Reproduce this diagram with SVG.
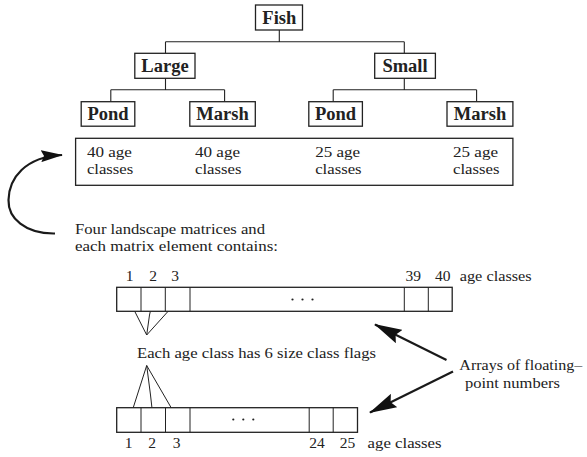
<svg xmlns="http://www.w3.org/2000/svg" width="587" height="457" viewBox="0 0 587 457">
<style>
  .box{fill:#fff;stroke:#222;stroke-width:1.3}
  .ln{fill:none;stroke:#222;stroke-width:1.1}
  .thin{fill:none;stroke:#222;stroke-width:1}
  text{font-family:'Liberation Serif','Times New Roman',Times,'DejaVu Serif',serif;fill:#222}
  .b{font-weight:bold;font-size:18.5px;text-anchor:middle}
  .t{font-size:15.5px}
  .m{text-anchor:middle}
  .arr{fill:none;stroke:#1a1a1a;stroke-width:2.2}
  .dot{fill:#222}
</style>
<defs>
  <marker id="big" viewBox="0 0 28 15" refX="27" refY="7.5" markerWidth="28" markerHeight="15" markerUnits="userSpaceOnUse" orient="auto">
    <path d="M0,0 L28,7.5 L0,15 L4,7.5 z" fill="#111"/>
  </marker>
  <marker id="small" viewBox="0 0 22 12" refX="21" refY="6" markerWidth="22" markerHeight="12" markerUnits="userSpaceOnUse" orient="auto">
    <path d="M0,0 L22,6 L0,12 L3,6 z" fill="#111"/>
  </marker>
</defs>

<g id="connectors">
  <path class="ln" d="M279.3,30 V41.7 M165.5,41.7 H404.3 M165.5,41.7 V53.3 M404.3,41.7 V53.3"/>
  <path class="ln" d="M165.5,78.3 V89.7 M110.8,89.7 H224.6 M110.8,89.7 V101.7 M224.6,89.7 V101.7"/>
  <path class="ln" d="M404.3,78.3 V89.7 M333.2,89.7 H476.6 M333.2,89.7 V101.7 M476.6,89.7 V101.7"/>
  <path class="arr" d="M55,233.5 C25,234 8,218 8.5,200 C9,178 25,157 62,155" marker-end="url(#small)"/>
  <path class="thin" d="M128.5,299 L146.7,335 L181,297 M153.3,298.3 L149.5,315 L146.7,335"/>
  <path class="thin" d="M129.3,420 L146.7,365.5 L178.3,420 M153.3,420 L150.5,395 L146.7,365.5"/>
  <path class="arr" d="M446.5,360 L375,324.5" marker-end="url(#big)"/>
  <path class="arr" d="M453,371.5 L370,412.5" marker-end="url(#big)"/>
</g>

<g id="fish"><rect class="box" x="255.5" y="5" width="47" height="25"/><text class="b" x="279.3" y="24">Fish</text></g>
<g id="large"><rect class="box" x="134.8" y="53.3" width="60.2" height="25"/><text class="b" x="165" y="72">Large</text></g>
<g id="small-node"><rect class="box" x="374.7" y="53.3" width="60.7" height="25"/><text class="b" x="405" y="72">Small</text></g>
<g id="pond1"><rect class="box" x="81.2" y="101.7" width="53.6" height="24.5"/><text class="b" x="108" y="120">Pond</text></g>
<g id="marsh1"><rect class="box" x="189.8" y="101.7" width="65.5" height="24.5"/><text class="b" x="222.5" y="120">Marsh</text></g>
<g id="pond2"><rect class="box" x="308.8" y="101.7" width="53.6" height="24.5"/><text class="b" x="335.6" y="120">Pond</text></g>
<g id="marsh2"><rect class="box" x="447" y="101.7" width="65.9" height="24.5"/><text class="b" x="480" y="120">Marsh</text></g>

<g id="age-box">
  <rect class="box" x="75.6" y="138.3" width="437.3" height="47"/>
  <text class="t" x="86.9" y="156.5" textLength="45" lengthAdjust="spacingAndGlyphs">40 age</text><text class="t" x="86.9" y="173.5" textLength="46.4" lengthAdjust="spacingAndGlyphs">classes</text>
  <text class="t" x="195" y="156.5" textLength="45" lengthAdjust="spacingAndGlyphs">40 age</text><text class="t" x="195" y="173.5" textLength="46.4" lengthAdjust="spacingAndGlyphs">classes</text>
  <text class="t" x="315.2" y="156.5" textLength="45" lengthAdjust="spacingAndGlyphs">25 age</text><text class="t" x="315.2" y="173.5" textLength="46.4" lengthAdjust="spacingAndGlyphs">classes</text>
  <text class="t" x="453" y="156.5" textLength="45" lengthAdjust="spacingAndGlyphs">25 age</text><text class="t" x="453" y="173.5" textLength="46.4" lengthAdjust="spacingAndGlyphs">classes</text>
</g>

<g id="caption">
  <text class="t" x="75" y="233.5" textLength="190" lengthAdjust="spacingAndGlyphs">Four landscape matrices and</text>
  <text class="t" x="75" y="251" textLength="203" lengthAdjust="spacingAndGlyphs">each matrix element contains:</text>
</g>

<g id="array40">
  <rect class="box" x="116.7" y="287.3" width="335.5" height="24"/>
  <path class="thin" d="M141,287.3 V311.3 M165.3,287.3 V311.3 M190,287.3 V311.3 M404.3,287.3 V311.3 M428.3,287.3 V311.3"/>
  <circle class="dot" cx="292.5" cy="299.5" r="1.1"/><circle class="dot" cx="302.5" cy="299.5" r="1.1"/><circle class="dot" cx="312.5" cy="299.5" r="1.1"/>
  <text class="t m" x="129.5" y="281">1</text><text class="t m" x="153" y="281">2</text><text class="t m" x="175" y="281">3</text>
  <text class="t m" x="413.3" y="281">39</text><text class="t m" x="442.7" y="281">40</text>
  <text class="t" x="459.7" y="281" textLength="72" lengthAdjust="spacingAndGlyphs">age classes</text>
</g>

<g id="flags-label"><text class="t" x="137" y="357.5" textLength="239" lengthAdjust="spacingAndGlyphs">Each age class has 6 size class flags</text></g>

<g id="arrays-label">
  <text class="t" x="459.3" y="370" textLength="123" lengthAdjust="spacingAndGlyphs">Arrays of floating–</text>
  <text class="t" x="465" y="388" textLength="95" lengthAdjust="spacingAndGlyphs">point numbers</text>
</g>

<g id="array25">
  <rect class="box" x="116.7" y="407.7" width="240.8" height="24.6"/>
  <path class="thin" d="M141,407.7 V432.3 M165.5,407.7 V432.3 M190,407.7 V432.3 M309.2,407.7 V432.3 M333.2,407.7 V432.3"/>
  <circle class="dot" cx="233.3" cy="419.5" r="1.1"/><circle class="dot" cx="243.3" cy="419.5" r="1.1"/><circle class="dot" cx="253.3" cy="419.5" r="1.1"/>
  <text class="t m" x="128.5" y="448">1</text><text class="t m" x="152" y="448">2</text><text class="t m" x="176.5" y="448">3</text>
  <text class="t m" x="317" y="448">24</text><text class="t m" x="347.4" y="448">25</text>
  <text class="t" x="367.6" y="448" textLength="74" lengthAdjust="spacingAndGlyphs">age classes</text>
</g>
</svg>
